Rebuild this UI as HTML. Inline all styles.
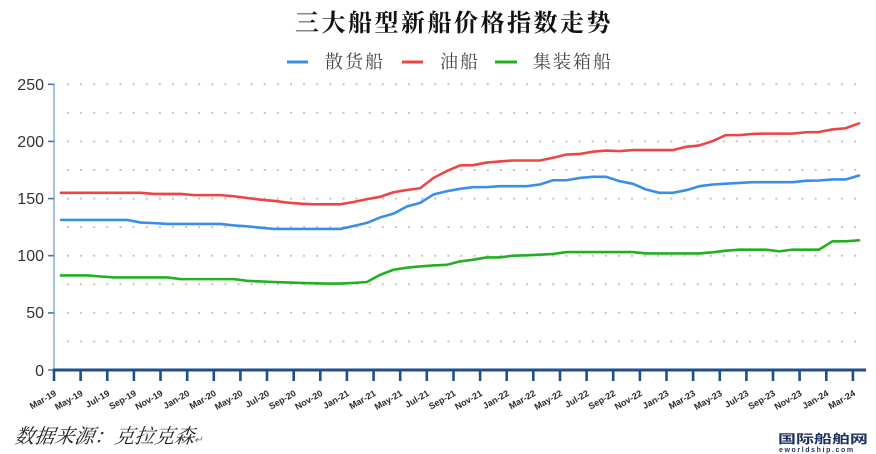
<!DOCTYPE html>
<html><head><meta charset="utf-8"><style>
html,body{margin:0;padding:0;background:#fff;}
body{width:876px;height:454px;overflow:hidden;position:relative;}
svg{position:absolute;left:0;top:0;}
</style></head><body>
<svg width="876" height="454" viewBox="0 0 876 454" xmlns="http://www.w3.org/2000/svg">
<rect width="876" height="454" fill="#fff"/>
<!-- title -->
<text x="454" y="31" text-anchor="middle" font-family="'Liberation Serif','Noto Serif CJK SC',serif" font-weight="bold" font-size="24" letter-spacing="2.5" fill="#111">三大船型新船价格指数走势</text>
<!-- legend -->
<g font-family="'Liberation Serif','Noto Serif CJK SC',serif" font-size="18" fill="#444" letter-spacing="2">
<line x1="287" y1="62" x2="308" y2="62" stroke="#3a8ee8" stroke-width="3"/>
<text x="325" y="68">散货船</text>
<line x1="402" y1="62" x2="423" y2="62" stroke="#ef4444" stroke-width="3"/>
<text x="440" y="68">油船</text>
<line x1="495" y1="62" x2="517" y2="62" stroke="#22b022" stroke-width="3"/>
<text x="533" y="68">集装箱船</text>
</g>
<!-- grid dots -->
<g stroke="#c4c4c4" stroke-width="2" stroke-dasharray="2 11.117">
<line x1="67" x2="857" y1="84.3" y2="84.3"/>
<line x1="67" x2="857" y1="112.9" y2="112.9"/>
<line x1="67" x2="857" y1="141.4" y2="141.4"/>
<line x1="67" x2="857" y1="170" y2="170"/>
<line x1="67" x2="857" y1="198.6" y2="198.6"/>
<line x1="67" x2="857" y1="227.1" y2="227.1"/>
<line x1="67" x2="857" y1="255.7" y2="255.7"/>
<line x1="67" x2="857" y1="284.3" y2="284.3"/>
<line x1="67" x2="857" y1="312.9" y2="312.9"/>
<line x1="67" x2="857" y1="341.4" y2="341.4"/>
</g>
<!-- y axis -->
<line x1="54" y1="84" x2="54" y2="370" stroke="#8db2dc" stroke-width="1.6"/>
<path d="M48 84.3H54M48 141.4H54M48 198.6H54M48 255.7H54M48 312.9H54M48 370H54" stroke="#4a76b0" stroke-width="1.6"/>
<g font-family="'Liberation Sans',sans-serif" font-size="16" fill="#333" text-anchor="end">
<text x="44" y="90">250</text>
<text x="44" y="147">200</text>
<text x="44" y="204">150</text>
<text x="44" y="261">100</text>
<text x="44" y="318">50</text>
<text x="44" y="376">0</text>
</g>
<!-- series -->
<g transform="translate(61,370) scale(13.3,-1.143)" fill="none" stroke-width="2.6" stroke-linejoin="round" stroke-linecap="round">
<polyline vector-effect="non-scaling-stroke" stroke="#ef4444" points="0,155 1,155 2,155 3,155 4,155 5,155 6,155 7,154 8,154 9,154 10,153 11,153 12,153 13,152 14,150.5 15,149 16,148 17,146.5 18,145.5 19,145 20,145 21,145 22,147 23,149.5 24,151.5 25,155.5 26,157.5 27,159 28,168 29,174 30,179 31,179.2 32,181.5 33,182.5 34,183.3 35,183.3 36,183.3 37,185.7 38,188.5 39,189 40,191 41,192 42,191.5 43,192.4 44,192.4 45,192.4 46,192.4 47,195.3 48,196.5 49,200.3 50,205.5 51,205.5 52,206.5 53,206.8 54,206.8 55,206.8 56,208 57,208.2 58,210.5 59,211.5 60,215.8"/>
<polyline vector-effect="non-scaling-stroke" stroke="#3a8ee8" points="0,131.3 1,131.3 2,131.3 3,131.3 4,131.3 5,131.3 6,129 7,128.5 8,127.8 9,127.8 10,127.8 11,127.8 12,127.8 13,126.5 14,125.7 15,124.5 16,123.4 17,123.4 18,123.4 19,123.4 20,123.4 21,123.4 22,126 23,128.7 24,133.5 25,136.8 26,143 27,146.2 28,153.5 29,156.4 30,158.5 31,160 32,160 33,160.8 34,160.8 35,160.8 36,162.3 37,166 38,166 39,168 40,169 41,169 42,165.2 43,162.9 44,157.9 45,155 46,155 47,157.3 48,160.8 49,162.3 50,163 51,163.7 52,164.3 53,164.3 54,164.3 55,164.3 56,165.5 57,165.8 58,166.7 59,166.7 60,170.2"/>
<polyline vector-effect="non-scaling-stroke" stroke="#22b022" points="0,82.7 1,82.7 2,82.7 3,81.8 4,81 5,81 6,81 7,81 8,81 9,79.5 10,79.5 11,79.5 12,79.5 13,79.5 14,78 15,77.5 16,77 17,76.6 18,76.2 19,75.8 20,75.6 21,75.6 22,76.2 23,77 24,83.3 25,87.7 26,89.5 27,90.6 28,91.5 29,92 30,95 31,96.5 32,98.5 33,98.5 34,100 35,100.3 36,100.9 37,101.5 38,103.2 39,103.2 40,103.2 41,103.2 42,103.2 43,103.2 44,102 45,102 46,102 47,102 48,102 49,103 50,104.4 51,105.3 52,105.3 53,105.3 54,103.8 55,105.3 56,105.3 57,105.3 58,112.6 59,112.6 60,113.5"/>
</g>
<!-- x axis -->
<line x1="53" y1="370" x2="866" y2="370" stroke="#1f4f8f" stroke-width="3"/>
<path stroke="#1f4f8f" stroke-width="2.6" d="M54 370V381M80.6 370V381M107.3 370V381M133.9 370V381M160.5 370V381M187.2 370V381M213.8 370V381M240.4 370V381M267 370V381M293.7 370V381M320.3 370V381M346.9 370V381M373.6 370V381M400.2 370V381M426.8 370V381M453.5 370V381M480.1 370V381M506.7 370V381M533.3 370V381M560 370V381M586.6 370V381M613.2 370V381M639.9 370V381M666.5 370V381M693.1 370V381M719.8 370V381M746.4 370V381M773 370V381M799.6 370V381M826.3 370V381M852.9 370V381"/>
<g font-family="'Liberation Sans',sans-serif" font-size="9" font-weight="bold" fill="#2a2a2a" text-anchor="end">
<text transform="translate(57,395) rotate(-30)">Mar-19</text>
<text transform="translate(83.6,395) rotate(-30)">May-19</text>
<text transform="translate(110.3,395) rotate(-30)">Jul-19</text>
<text transform="translate(136.9,395) rotate(-30)">Sep-19</text>
<text transform="translate(163.5,395) rotate(-30)">Nov-19</text>
<text transform="translate(190.2,395) rotate(-30)">Jan-20</text>
<text transform="translate(216.8,395) rotate(-30)">Mar-20</text>
<text transform="translate(243.4,395) rotate(-30)">May-20</text>
<text transform="translate(270,395) rotate(-30)">Jul-20</text>
<text transform="translate(296.7,395) rotate(-30)">Sep-20</text>
<text transform="translate(323.3,395) rotate(-30)">Nov-20</text>
<text transform="translate(349.9,395) rotate(-30)">Jan-21</text>
<text transform="translate(376.6,395) rotate(-30)">Mar-21</text>
<text transform="translate(403.2,395) rotate(-30)">May-21</text>
<text transform="translate(429.8,395) rotate(-30)">Jul-21</text>
<text transform="translate(456.5,395) rotate(-30)">Sep-21</text>
<text transform="translate(483.1,395) rotate(-30)">Nov-21</text>
<text transform="translate(509.7,395) rotate(-30)">Jan-22</text>
<text transform="translate(536.3,395) rotate(-30)">Mar-22</text>
<text transform="translate(563,395) rotate(-30)">May-22</text>
<text transform="translate(589.6,395) rotate(-30)">Jul-22</text>
<text transform="translate(616.2,395) rotate(-30)">Sep-22</text>
<text transform="translate(642.9,395) rotate(-30)">Nov-22</text>
<text transform="translate(669.5,395) rotate(-30)">Jan-23</text>
<text transform="translate(696.1,395) rotate(-30)">Mar-23</text>
<text transform="translate(722.8,395) rotate(-30)">May-23</text>
<text transform="translate(749.4,395) rotate(-30)">Jul-23</text>
<text transform="translate(776,395) rotate(-30)">Sep-23</text>
<text transform="translate(802.6,395) rotate(-30)">Nov-23</text>
<text transform="translate(829.3,395) rotate(-30)">Jan-24</text>
<text transform="translate(855.9,395) rotate(-30)">Mar-24</text>
</g>
<!-- source -->
<text x="14" y="443" font-family="'Liberation Serif','Noto Serif CJK SC',serif" font-size="20" font-style="italic" fill="#222" transform="skewX(-8) translate(62,0)">数据来源：克拉克森<tspan font-size="10" fill="#666">↵</tspan></text>
<!-- watermark -->
<text x="0" y="0" transform="translate(778,443) scale(1.5,1)" font-family="'Liberation Sans','Noto Sans CJK SC',sans-serif" font-weight="bold" font-size="12" fill="#1c2f5e">国际船舶网</text>
<text x="779" y="452" font-family="'Liberation Sans',sans-serif" font-weight="bold" font-size="7" letter-spacing="1.6" fill="#1c2f5e">eworldship.com</text>
</svg>
</body></html>
